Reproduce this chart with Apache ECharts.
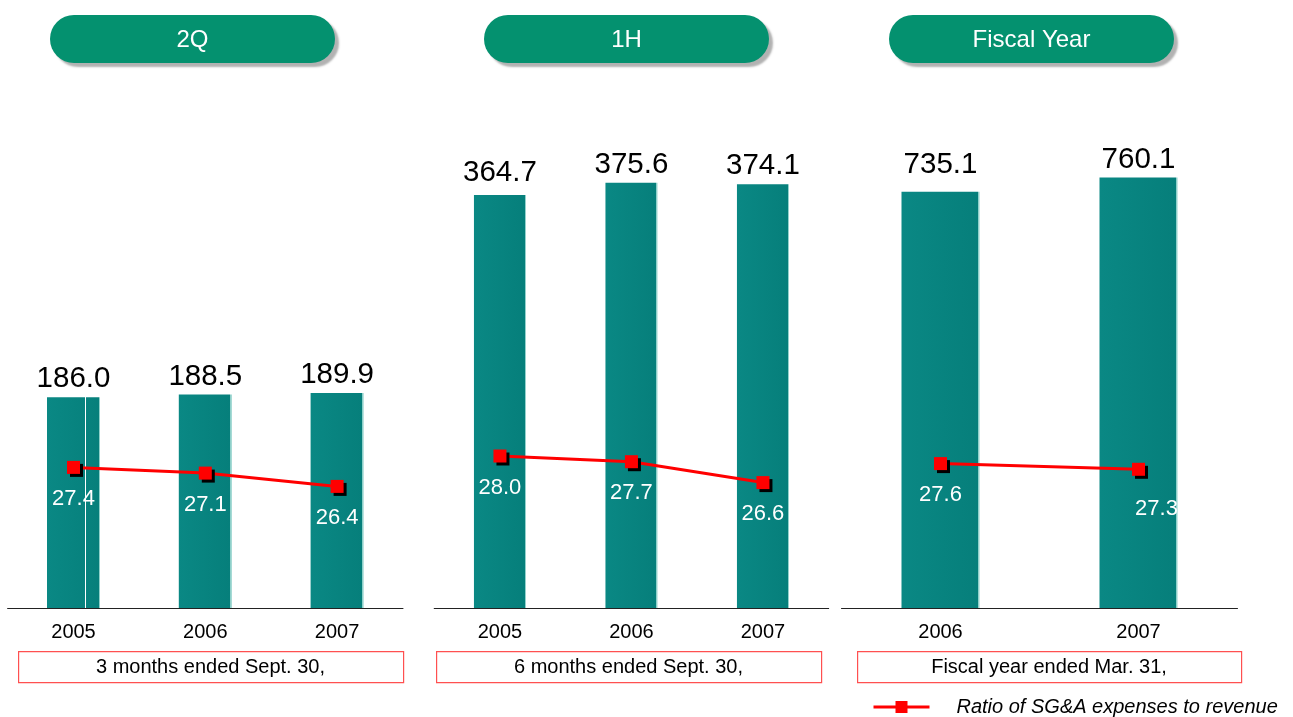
<!DOCTYPE html>
<html>
<head>
<meta charset="utf-8">
<title>SG&amp;A expenses</title>
<script src="https://cdn.jsdelivr.net/npm/echarts@6/dist/echarts.min.js"></script>
<style>
  html, body { margin: 0; padding: 0; background: #ffffff; }
  #chart { width: 1293px; height: 717px; }
</style>
</head>
<body>
<div id="chart"></div>
<script>
// SG&A expenses (bars) and ratio of SG&A expenses to revenue (line), by period
const quarterYears = ['2005', '2006', '2007'];
const quarterSGA = [186.0, 188.5, 189.9];
const quarterRatio = [27.4, 27.1, 26.4];

const halfYears = ['2005', '2006', '2007'];
const halfSGA = [364.7, 375.6, 374.1];
const halfRatio = [28.0, 27.7, 26.6];

const fiscalYears = ['2006', '2007'];
const fiscalSGA = [735.1, 760.1];
const fiscalRatio = [27.6, 27.3];

const panelTitles = ['2Q', '1H', 'Fiscal Year'];
const periodNotes = ['3 months ended Sept. 30,', '6 months ended Sept. 30,', 'Fiscal year ended Mar. 31,'];
const ratioName = 'Ratio of SG&A expenses to revenue';

const FONT = '"Liberation Sans", Arial, sans-serif';
const chart = echarts.init(document.getElementById('chart'));

const panels = [
  { cats: quarterYears, bars: quarterSGA, ratio: quarterRatio, left: 7.6, width: 395.4, max: 400, barWidth: 53 },
  { cats: halfYears, bars: halfSGA, ratio: halfRatio, left: 434.2, width: 394.5, max: 400, barWidth: 52 },
  { cats: fiscalYears, bars: fiscalSGA, ratio: fiscalRatio, left: 841.5, width: 396, max: 800, barWidth: 78 }
];

const GRID_TOP = 155, GRID_H = 453;
const RATIO_MIN = 20, RATIO_MAX = 20 + GRID_H / 19;

function barFill(split) {
  const stops = split
    ? [
        { offset: 0, color: '#0a8884' }, { offset: 0.72, color: '#07827e' },
        { offset: 0.72, color: '#ffffff' }, { offset: 0.745, color: '#ffffff' },
        { offset: 0.745, color: '#07827e' }, { offset: 0.975, color: '#067f7b' },
        { offset: 0.975, color: '#8fd0ca' }, { offset: 1, color: '#8fd0ca' }
      ]
    : [
        { offset: 0, color: '#0a8884' }, { offset: 0.975, color: '#067f7b' },
        { offset: 0.975, color: '#8fd0ca' }, { offset: 1, color: '#8fd0ca' }
      ];
  return new echarts.graphic.LinearGradient(0, 0, 1, 0, stops);
}

const grid = [], xAxis = [], yAxis = [], series = [];
panels.forEach((p, i) => {
  grid.push({ left: p.left, width: p.width, top: GRID_TOP, height: GRID_H });
  xAxis.push({
    type: 'category', gridIndex: i, data: p.cats,
    axisLine: { lineStyle: { color: '#222', width: 1 } },
    axisTick: { show: false },
    axisLabel: { color: '#000', fontSize: 20, fontFamily: FONT, margin: 14 },
    z: 5
  });
  yAxis.push({ type: 'value', gridIndex: i, min: 0, max: p.max, show: false, splitLine: { show: false } });
  yAxis.push({ type: 'value', gridIndex: i, min: RATIO_MIN, max: RATIO_MAX, show: false, splitLine: { show: false } });

  series.push({
    type: 'bar', xAxisIndex: i, yAxisIndex: i * 2, barWidth: p.barWidth,
    data: p.bars.map((v, k) => ({
      value: v,
      itemStyle: { color: barFill(i === 0 && k === 0) },
      label: (i === 2 && k === 0) ? { distance: 12 } : (i === 1 && k === 0 ? { distance: 7 } : {})
    })),
    label: {
      show: true, position: 'top', distance: 3,
      color: '#000', fontSize: 29.5, fontFamily: FONT,
      formatter: d => d.value.toFixed(1)
    },
    z: 2
  });

  series.push({
    type: 'line', name: ratioName, xAxisIndex: i, yAxisIndex: i * 2 + 1,
    data: p.ratio.map((v, k) => ({
      value: v,
      label: (i === 2 && k === 1) ? { distance: 22, offset: [18, 0] } : {}
    })),
    symbol: 'rect', symbolSize: 13,
    lineStyle: { color: '#ff0000', width: 3 },
    itemStyle: { color: '#ff0000', shadowColor: '#000', shadowOffsetX: 3, shadowOffsetY: 3, shadowBlur: 0 },
    label: {
      show: true, position: 'bottom', distance: 14,
      color: '#ffffff', fontSize: 22, fontFamily: FONT,
      formatter: d => d.value.toFixed(1)
    },
    z: 4
  });
});

// Header pills and period captions
const pillX = [50, 484, 889];
const noteBox = [[18, 385], [436, 385], [857, 384]];
const graphics = [];
panelTitles.forEach((t, i) => {
  graphics.push({
    type: 'rect', left: pillX[i], top: 15,
    shape: { width: 285, height: 48, r: 24 },
    style: { fill: '#04916f', shadowColor: 'rgba(0,0,0,0.3)', shadowOffsetX: 4, shadowOffsetY: 4, shadowBlur: 2 },
    z: 10
  });
  graphics.push({
    type: 'text', x: pillX[i] + 142.5, y: 40,
    style: { text: t, fill: '#ffffff', font: '24px ' + FONT, align: 'center', verticalAlign: 'middle' },
    z: 11
  });
});
periodNotes.forEach((t, i) => {
  graphics.push({
    type: 'rect', left: noteBox[i][0], top: 651,
    shape: { width: noteBox[i][1], height: 31 },
    style: { fill: '#ffffff', stroke: '#ff5050', lineWidth: 1.2 },
    z: 10
  });
  graphics.push({
    type: 'text', x: noteBox[i][0] + noteBox[i][1] / 2, y: 667,
    style: { text: t, fill: '#000', font: '20px ' + FONT, align: 'center', verticalAlign: 'middle' },
    z: 11
  });
});

chart.setOption({
  animation: false,
  backgroundColor: '#ffffff',
  grid, xAxis, yAxis, series,
  legend: {
    data: [ratioName],
    left: 872, top: 697, padding: 0,
    itemWidth: 56, itemHeight: 15,
    lineStyle: { width: 3 },
    itemStyle: { shadowBlur: 0, shadowOffsetX: 0, shadowOffsetY: 0, shadowColor: 'transparent' },
    textStyle: { color: '#000', fontSize: 20, fontStyle: 'italic', fontFamily: FONT, padding: [0, 0, 0, 22] }
  },
  graphic: graphics
});
</script>
</body>
</html>
